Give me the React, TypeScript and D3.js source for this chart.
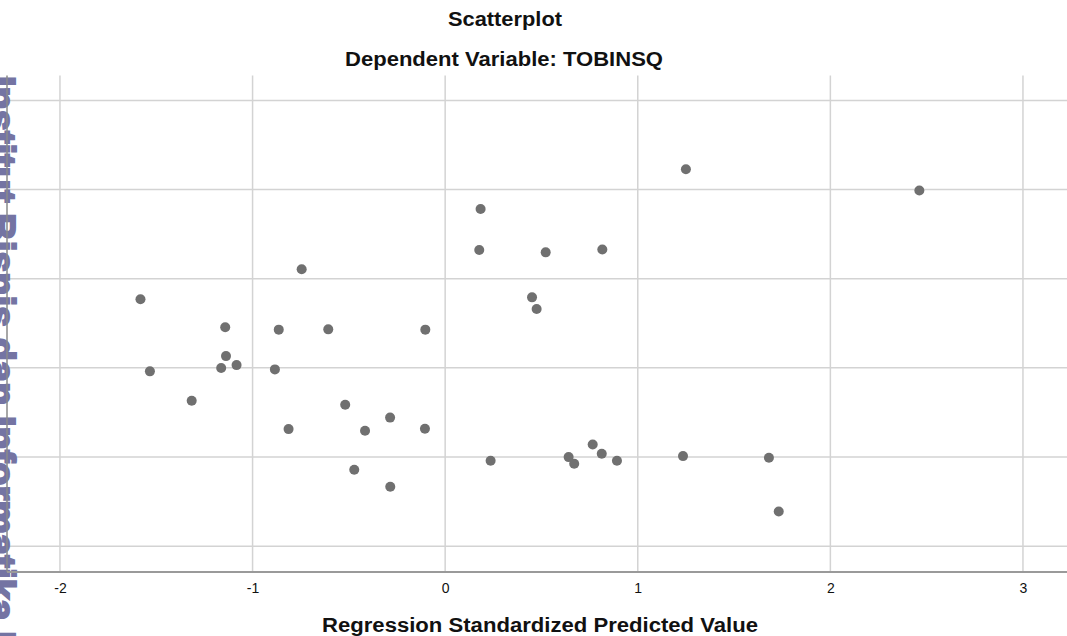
import React, { useRef, useEffect } from 'react';
import { select, scaleLinear, axisBottom } from 'd3';

// regression standardized predicted value (x) and residual (y)
const predicted = [
  1.25, 2.462, 0.184, 0.177, 0.522, 0.816, -0.745, -1.582, 0.451, 0.475,
  -1.142, -0.864, -0.607, -0.103, -1.138, -1.163, -1.083, -0.884, -1.533, -1.316,
  -0.519, -0.286, -0.813, -0.416, -0.105, 0.766, 0.236, 0.641, 0.67, 0.813,
  0.892, 1.235, 1.681, -0.472, -0.285, 1.732,
];
const residual = [
  2.228, 1.989, 1.782, 1.322, 1.296, 1.327, 1.106, 0.769, 0.791, 0.66,
  0.455, 0.429, 0.432, 0.429, 0.132, -0.002, 0.031, -0.017, -0.039, -0.368,
  -0.413, -0.558, -0.687, -0.705, -0.682, -0.859, -1.042, -1.001, -1.075, -0.963,
  -1.042, -0.99, -1.008, -1.143, -1.333, -1.611,
];
const xTicks = [-2, -1, 0, 1, 2, 3];
const yTicks = [-2, -1, 0, 1, 2, 3];

const chartTitle = 'Scatterplot';
const chartSubtitle = 'Dependent Variable: TOBINSQ';
const xAxisTitle = 'Regression Standardized Predicted Value';
const watermark = 'Institut Bisnis dan Informatika Kwik Kian Gie';

const width = 1067;
const height = 636;
const plot = { left: 7, right: 1100, top: 75.5, bottom: 572 };
const font = '"Liberation Sans", Arial, sans-serif';

export default function App() {
  const svgRef = useRef<SVGSVGElement>(null);

  useEffect(() => {
    const svg = select(svgRef.current);
    svg.selectAll('*').remove();

    const xScale = scaleLinear().domain([-2.275, 3.4]).range([plot.left, plot.right]);
    const yScale = scaleLinear().domain([-2.29, 3.28]).range([plot.bottom, plot.top]);

    // grid
    const grid = svg.append('g').attr('stroke', '#d3d3d3').attr('stroke-width', 1.5);
    grid
      .selectAll('.hgrid')
      .data(yTicks)
      .join('line')
      .attr('class', 'hgrid')
      .attr('x1', plot.left)
      .attr('x2', plot.right)
      .attr('y1', d => yScale(d))
      .attr('y2', d => yScale(d));
    grid
      .selectAll('.vgrid')
      .data(xTicks)
      .join('line')
      .attr('class', 'vgrid')
      .attr('x1', d => xScale(d))
      .attr('x2', d => xScale(d))
      .attr('y1', plot.top)
      .attr('y2', plot.bottom);

    // watermark down the left edge, mostly cut off in the source too
    svg
      .append('text')
      .attr('transform', 'translate(-12,76) rotate(90)')
      .attr('font-family', font)
      .attr('font-weight', 'bold')
      .attr('font-size', 38)
      .attr('fill', '#7474a3')
      .attr('stroke', '#7474a3')
      .attr('stroke-width', 2)
      .text(watermark);

    // axis lines
    svg
      .append('line')
      .attr('x1', plot.left)
      .attr('x2', plot.left)
      .attr('y1', plot.top)
      .attr('y2', plot.bottom)
      .attr('stroke', '#8a8a8a')
      .attr('stroke-width', 1.5);
    svg
      .append('line')
      .attr('x1', plot.left)
      .attr('x2', plot.right)
      .attr('y1', plot.bottom)
      .attr('y2', plot.bottom)
      .attr('stroke', '#9a9a9a')
      .attr('stroke-width', 2);

    const xAxis = axisBottom<number>(xScale)
      .tickValues(xTicks)
      .tickSize(0)
      .tickPadding(11)
      .tickFormat(d => String(d));
    const gx = svg
      .append('g')
      .attr('transform', `translate(0,${plot.bottom})`)
      .call(xAxis);
    gx.select('.domain').remove();
    gx.attr('font-family', font).attr('font-size', 14);
    gx.selectAll('text').attr('fill', '#111');

    // points
    svg
      .append('g')
      .selectAll('circle')
      .data(predicted.map((p, i) => [p, residual[i]]))
      .join('circle')
      .attr('cx', d => xScale(d[0]))
      .attr('cy', d => yScale(d[1]))
      .attr('r', 5)
      .attr('fill', '#707070');

    // titles
    const title = (txt: string, x: number, y: number, len: number) =>
      svg
        .append('text')
        .attr('x', x)
        .attr('y', y)
        .attr('textLength', len)
        .attr('lengthAdjust', 'spacingAndGlyphs')
        .attr('font-family', font)
        .attr('font-weight', 'bold')
        .attr('font-size', 20)
        .attr('fill', '#111')
        .text(txt);
    title(chartTitle, 448, 26, 114);
    title(chartSubtitle, 345, 66, 318);
    title(xAxisTitle, 322, 632, 436);
  }, []);

  return (
    <svg
      ref={svgRef}
      width={width}
      height={height}
      style={{ position: 'fixed', left: 0, top: 0, background: '#fff', overflow: 'hidden' }}
    />
  );
}
